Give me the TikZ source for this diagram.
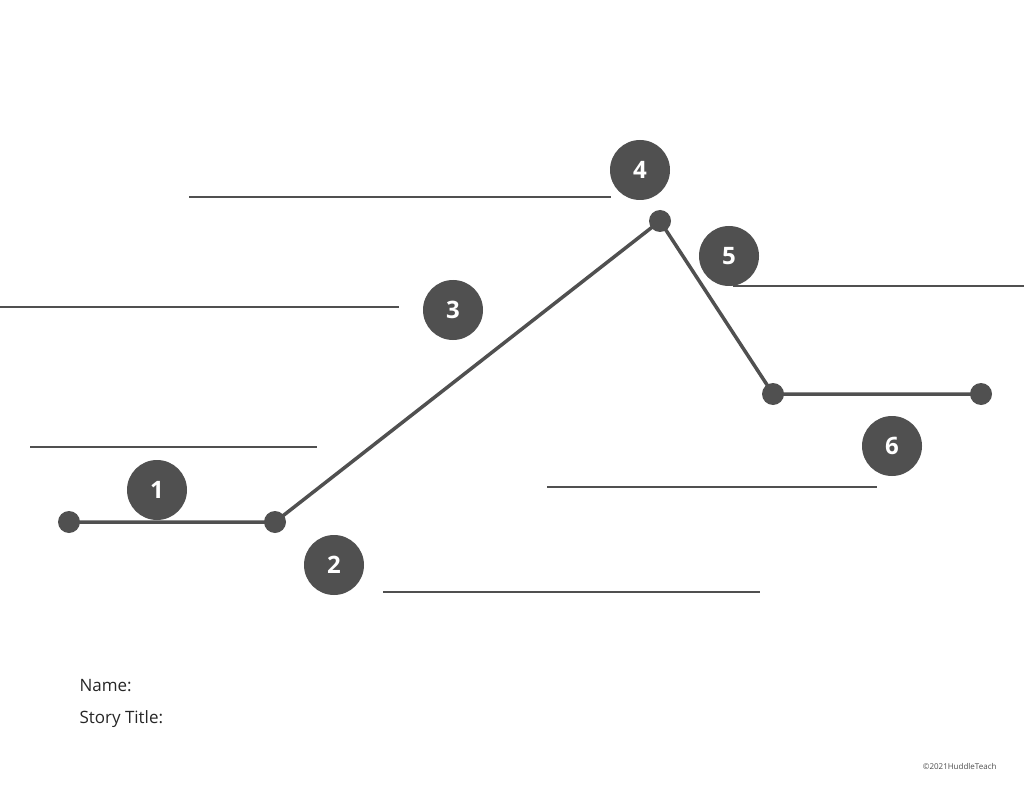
\documentclass[tikz,border=0pt]{standalone}
\usepackage{fontspec}
\setmainfont{Open Sans}
\usetikzlibrary{positioning}
\definecolor{plotgray}{HTML}{505050}
\tikzset{
  plotline/.style={plotgray, line width=3.5pt, line cap=round},
  blankline/.style={plotgray, line width=2.5pt},
  dotpt/.style={circle, fill=plotgray, inner sep=0pt, minimum size=22pt},
  stepnum/.style={circle, fill=plotgray, text=white, inner sep=0pt, minimum size=60pt, font=\fontsize{24}{28}\selectfont\bfseries},
}
\begin{document}
\begin{tikzpicture}[x=1pt,y=-1pt]
      \useasboundingbox (0,0) rectangle (1024,791);

      % points on the plot line
      \node[dotpt] (p1) at (69,522){};
      \node[dotpt] (p2) at (275,522){};
      \node[dotpt] (p4) at (660,221){};
      \node[dotpt] (p5) at (773,394){};
      \node[dotpt] (p6) at (981,394){};
      \draw [plotline] (p1.center) -- (p2.center) -- (p4.center) -- (p5.center) -- (p6.center);

      % numbered steps
      \node[stepnum] (n1) at (157,490){1};
      \node[stepnum] (n2) at (334,565){2};
      \node[stepnum] (n3) at (453,310){3};
      \node[stepnum] (n4) at (640,170){4};
      \node[stepnum] (n5) at (729,256){5};
      \node[stepnum] (n6) at (892,446){6};

      % blank writing lines
      \coordinate (a1) at (189,197); \coordinate (a2) at (611,197);
      \coordinate (b1) at (0,307);   \coordinate (b2) at (399,307);
      \coordinate (c1) at (30,447);  \coordinate (c2) at (317,447);
      \coordinate (d1) at (547,487); \coordinate (d2) at (877,487);
      \coordinate (e1) at (383,592); \coordinate (e2) at (760,592);
      \coordinate (f1) at (733,286); \coordinate (f2) at (1024,286);
      \foreach \s in {a,b,c,d,e,f}
        \draw [blankline] (\s1) -- (\s2);

      \node[anchor=west, font=\fontsize{17}{20}\selectfont, text=black!85] (name) at (76,686) {Name:};
      \node[anchor=west, font=\fontsize{17}{20}\selectfont, text=black!85] (title) at (76,719) {Story Title:};
      \node[anchor=east, font=\fontsize{8}{10}\selectfont, text=black!70] (copy) at (1000,766) {\textcopyright2021HuddleTeach};
\end{tikzpicture}
\end{document}
